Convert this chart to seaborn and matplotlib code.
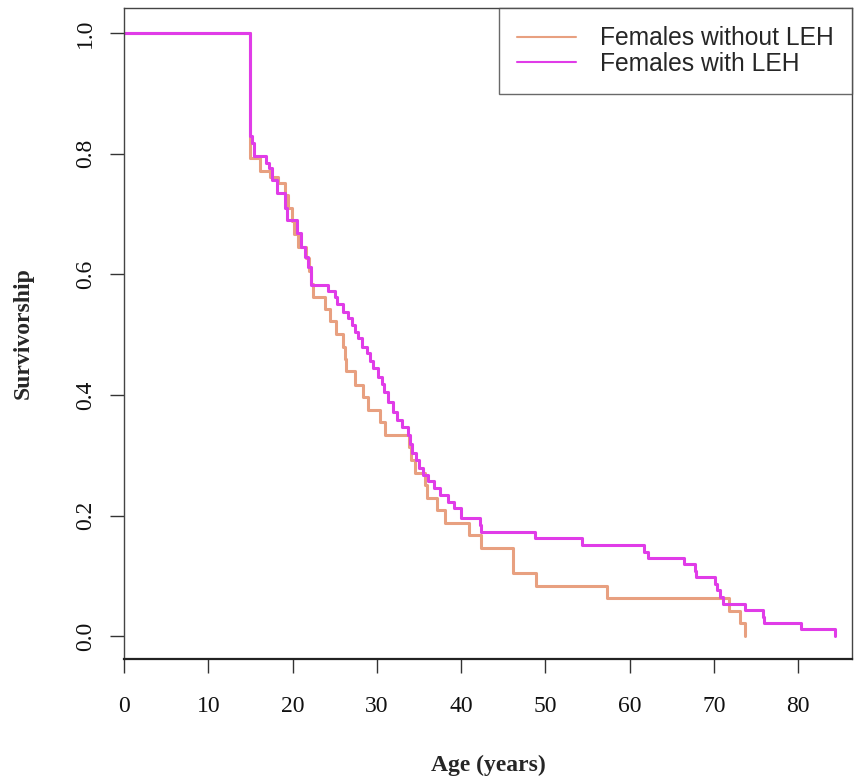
import matplotlib
matplotlib.use("Agg")
import matplotlib.pyplot as plt
import seaborn as sns
import pandas as pd

# ---- data ----
label_without = "Females without LEH"
label_with = "Females with LEH"

age_without = [0, 15.0, 16.1, 17.3, 18.3, 19.1, 19.5, 19.9, 20.2, 20.6, 21.6, 22.0, 22.2,
               22.46, 23.8, 24.4, 25.2, 25.94, 26.2, 26.4, 27.4, 28.4, 29.0, 30.4, 31.0,
               33.8, 34.1, 34.5, 35.7, 36.0, 37.1, 38.1, 41.0, 42.4, 46.2, 48.95, 57.3,
               71.8, 73.1, 73.7]
surv_without = [1.0, 0.793, 0.772, 0.762, 0.752, 0.731, 0.710, 0.688, 0.667, 0.646, 0.627,
                0.605, 0.584, 0.563, 0.543, 0.522, 0.502, 0.480, 0.459, 0.439, 0.417,
                0.396, 0.375, 0.355, 0.334, 0.313, 0.292, 0.271, 0.250, 0.229, 0.209,
                0.188, 0.167, 0.146, 0.104, 0.083, 0.0625, 0.0415, 0.021, 0.0]

age_with = [0, 15.0, 15.2, 15.4, 16.8, 17.2, 17.6, 18.2, 19.1, 19.4, 20.5, 21.0, 21.5,
            21.8, 22.2, 24.2, 25.0, 25.3, 26.0, 26.6, 27.0, 27.4, 27.8, 28.2, 28.8, 29.2,
            29.6, 30.2, 30.6, 30.9, 31.3, 31.9, 32.4, 33.0, 33.7, 33.9, 34.2, 34.6, 35.0,
            35.5, 36.1, 36.8, 37.5, 38.5, 39.2, 40.0, 42.2, 42.4, 48.75, 54.3, 61.7, 62.2,
            66.5, 67.8, 67.9, 70.1, 70.4, 70.7, 71.1, 73.7, 75.8, 76.0, 80.4, 84.4]
surv_with = [1.0, 0.829, 0.818, 0.797, 0.785, 0.776, 0.757, 0.735, 0.710, 0.690, 0.669,
             0.646, 0.629, 0.613, 0.583, 0.573, 0.562, 0.551, 0.537, 0.527, 0.516, 0.505,
             0.495, 0.480, 0.470, 0.457, 0.445, 0.430, 0.418, 0.405, 0.389, 0.372, 0.358,
             0.347, 0.333, 0.318, 0.303, 0.292, 0.279, 0.268, 0.258, 0.245, 0.234, 0.223,
             0.212, 0.196, 0.184, 0.173, 0.162, 0.151, 0.140, 0.129, 0.119, 0.108, 0.098,
             0.087, 0.076, 0.065, 0.054, 0.043, 0.032, 0.022, 0.011, 0.0]

x_ticks = [0, 10, 20, 30, 40, 50, 60, 70, 80]
y_ticks = [0.0, 0.2, 0.4, 0.6, 0.8, 1.0]
y_ticklabels = ["0.0", "0.2", "0.4", "0.6", "0.8", "1.0"]

df = pd.concat([
    pd.DataFrame({"age": age_without, "surv": surv_without, "group": label_without}),
    pd.DataFrame({"age": age_with, "surv": surv_with, "group": label_with}),
], ignore_index=True)

sns.set_theme(style="white")
plt.rcParams["font.family"] = ["Liberation Serif", "DejaVu Serif"]

fig = plt.figure(figsize=(8.56, 7.83), dpi=100)
ax = fig.add_axes([124 / 856, 1 - 659 / 783, 728 / 856, 651 / 783])

palette = {label_without: "#E8A080", label_with: "#E03CE8"}
sns.lineplot(data=df, x="age", y="surv", hue="group", palette=palette,
             drawstyle="steps-post", estimator=None, sort=False, linewidth=2.2,
             ax=ax)

ax.set_xlim(0, 86.4)
ax.set_ylim(-0.038, 1.042)
ax.set_xticks(x_ticks)
ax.set_xticklabels([str(t) for t in x_ticks])
ax.set_yticks(y_ticks)
ax.set_yticklabels(y_ticklabels, rotation=90, va="center")
ax.tick_params(axis="both", direction="out", length=10, width=1.0, color="#333333",
               labelsize=17, labelcolor="#111111", left=True, bottom=True)
ax.tick_params(axis="x", pad=17)
ax.tick_params(axis="y", pad=10)
for s in ax.spines.values():
    s.set_color("#444444")
    s.set_linewidth(1.0)
ax.spines["bottom"].set_linewidth(1.6)
ax.spines["bottom"].set_color("#222222")

ax.set_xlabel("Age (years)", fontsize=17, fontweight="bold", labelpad=27)
ax.set_ylabel("Survivorship", fontsize=17, fontweight="bold", labelpad=30)

leg = ax.legend(loc="upper right", bbox_to_anchor=(1.0, 1.0), borderaxespad=0,
                frameon=True, fancybox=False, edgecolor="#444444",
                prop={"family": ["Liberation Sans"], "size": 17.7},
                handlelength=2.4, handletextpad=0.95, labelspacing=0.05,
                borderpad=0.75)
leg.get_frame().set_linewidth(1.0)
for line in leg.get_lines():
    line.set_linewidth(1.5)

fig.savefig("out.png", dpi=100, facecolor="white")
